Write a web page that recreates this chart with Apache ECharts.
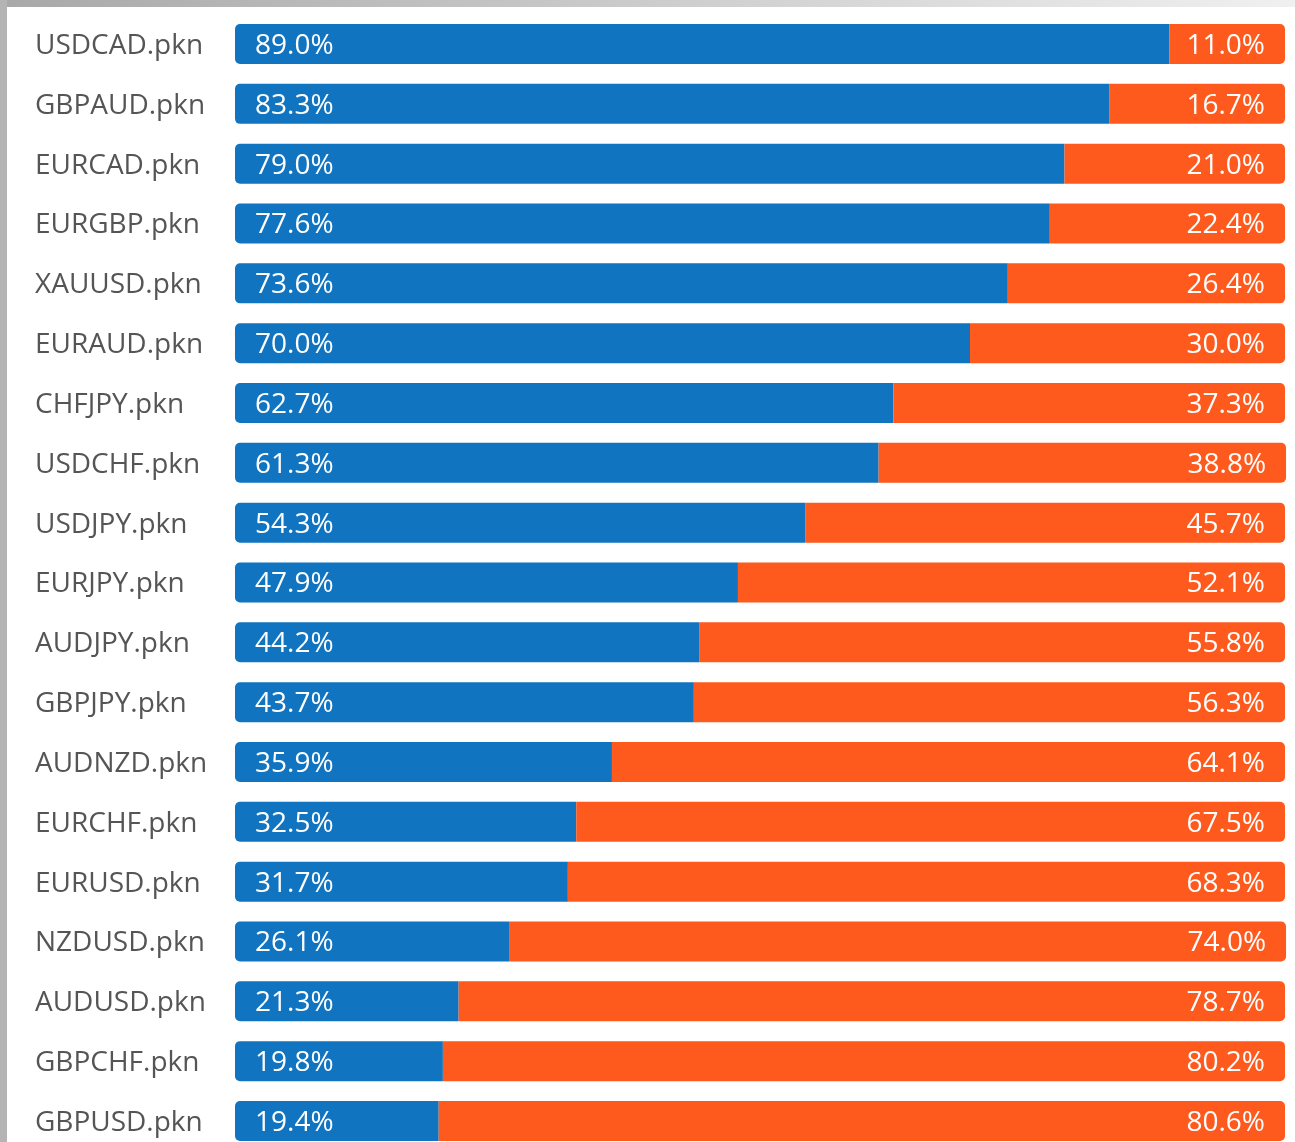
<!DOCTYPE html>
<html>
<head>
<meta charset="utf-8">
<script src="https://cdn.jsdelivr.net/npm/echarts@6/dist/echarts.min.js"></script>
<style>
  html, body { margin: 0; padding: 0; background: #fff; overflow: hidden; }
  #wrap { position: relative; width: 1295px; height: 1142px; overflow: hidden; }
  #chart { position: absolute; left: 0; top: 0; width: 1295px; height: 1160px; }
  .edge-top { position: absolute; left: 0; top: 0; width: 1295px; height: 7px; background: linear-gradient(to right, #a8a8a8, #f0f0f0); }
  .edge-left { position: absolute; left: 0; top: 0; width: 7px; height: 1142px; background: #b4b4b4; }
</style>
</head>
<body>
<div id="wrap">
  <div id="chart"></div>
  <div class="edge-top"></div>
  <div class="edge-left"></div>
</div>
<script>
const symbols = ['USDCAD.pkn', 'GBPAUD.pkn', 'EURCAD.pkn', 'EURGBP.pkn', 'XAUUSD.pkn', 'EURAUD.pkn',
  'CHFJPY.pkn', 'USDCHF.pkn', 'USDJPY.pkn', 'EURJPY.pkn', 'AUDJPY.pkn', 'GBPJPY.pkn', 'AUDNZD.pkn',
  'EURCHF.pkn', 'EURUSD.pkn', 'NZDUSD.pkn', 'AUDUSD.pkn', 'GBPCHF.pkn', 'GBPUSD.pkn']
const longPct = [89.0, 83.3, 79.0, 77.6, 73.6, 70.0, 62.7, 61.3, 54.3, 47.9, 44.2, 43.7, 35.9, 32.5, 31.7, 26.1, 21.3, 19.8, 19.4]
const shortPct = [11.0, 16.7, 21.0, 22.4, 26.4, 30.0, 37.3, 38.8, 45.7, 52.1, 55.8, 56.3, 64.1, 67.5, 68.3, 74.0, 78.7, 80.2, 80.6]

const font = '"Open Sans", "Noto Sans", sans-serif'
const pctLabel = (p) => p.value.toFixed(1) + '%'

const chart = echarts.init(document.getElementById('chart'))
chart.setOption({
  animation: false,
  backgroundColor: 'transparent',
  grid: { left: 235, right: 10, top: 14.1, bottom: 9.1 },
  xAxis: {
    type: 'value', min: 0, max: 100, show: false
  },
  yAxis: {
    type: 'category',
    data: symbols,
    inverse: true,
    axisLine: { show: false },
    axisTick: { show: false },
    axisLabel: {
      align: 'left',
      margin: 200,
      color: '#555555',
      fontSize: 28,
      fontFamily: font,
      verticalAlign: 'top',
      lineHeight: 28,
      padding: [-12, 0, 0, 0]
    }
  },
  series: [
    {
      name: 'long',
      type: 'bar',
      stack: 'total',
      barWidth: 40,
      clip: false,
      data: longPct,
      itemStyle: { color: '#1174c0', borderRadius: [5, 0, 0, 5] },
      label: {
        show: true,
        position: 'insideLeft',
        distance: 20,
        offset: [0, 2],
        color: '#ffffff',
        fontSize: 28,
        fontFamily: font,
        formatter: pctLabel
      }
    },
    {
      name: 'short',
      type: 'bar',
      stack: 'total',
      barWidth: 40,
      clip: false,
      data: shortPct,
      itemStyle: { color: '#ff5a1e', borderRadius: [0, 5, 5, 0] },
      label: {
        show: true,
        position: 'insideRight',
        distance: 20,
        offset: [0, 2],
        color: '#ffffff',
        fontSize: 28,
        fontFamily: font,
        formatter: pctLabel
      }
    }
  ]
})
</script>
</body>
</html>
